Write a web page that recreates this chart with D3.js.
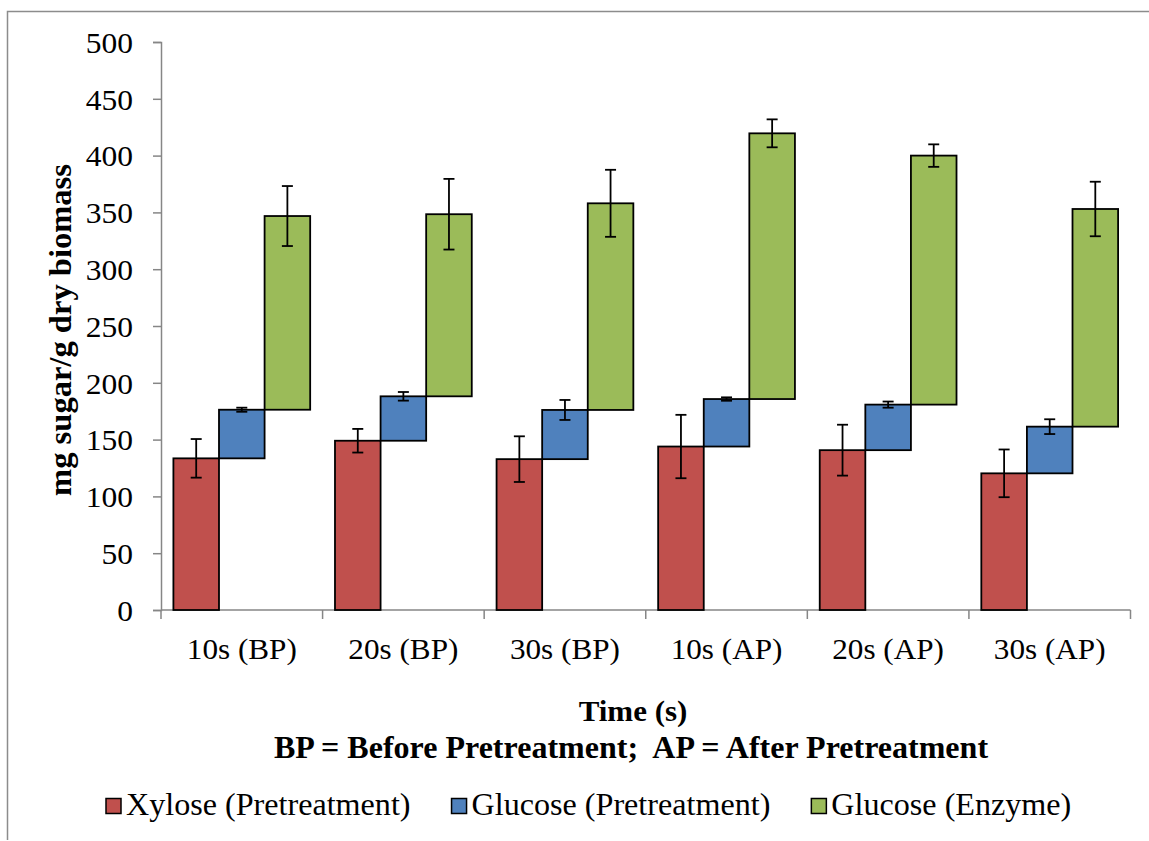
<!DOCTYPE html>
<html>
<head>
<meta charset="utf-8">
<script src="https://cdn.jsdelivr.net/npm/d3@7/dist/d3.min.js"></script>
<style>
  html, body { margin: 0; padding: 0; background: #fff; }
  svg { display: block; }
  text { font-family: "Liberation Serif", "Times New Roman", serif; fill: #000; }
</style>
</head>
<body>
<svg id="chart" width="1149" height="841"></svg>
<script>
// Sampling times (BP = before pretreatment, AP = after pretreatment)
const categories = ["10s (BP)", "20s (BP)", "30s (BP)", "10s (AP)", "20s (AP)", "30s (AP)"];

// Sugar yields, mg sugar / g dry biomass (each series is stacked on the previous one)
const seriesNames = ["Xylose (Pretreatment)", "Glucose (Pretreatment)", "Glucose (Enzyme)"];
const xylosePre  = [133.5, 149.0, 132.8, 143.9, 140.7, 120.3];
const glucosePre = [42.8, 39.1, 43.3, 41.8, 40.1, 41.1];
const glucoseEnz = [170.5, 160.3, 181.9, 233.9, 219.2, 191.6];

// Standard deviations
const xyloseErr     = [17.0, 10.4, 20.1, 27.9, 22.4, 21.0];
const glucosePreErr = [1.8, 3.8, 8.8, 1.5, 2.7, 6.5];
const glucoseEnzErr = [26.4, 31.1, 29.5, 12.3, 9.9, 24.0];

const yTicks = [0, 50, 100, 150, 200, 250, 300, 350, 400, 450, 500];
const colors = ["#C0504D", "#4F81BD", "#9BBB59"];

const svg = d3.select("#chart");
const STRETCH = 1.05; // glyphs are drawn slightly wide

// Widen a text element horizontally by the stretch factor and remember its final width
function widen(sel) {
  sel.each(function () {
    const len = this.getComputedTextLength();
    this.__width = len * STRETCH;
    d3.select(this).attr("textLength", len * STRETCH).attr("lengthAdjust", "spacingAndGlyphs");
  });
}

// Frame around the figure
svg.append("path")
  .attr("d", "M7.5,840 V11.5 H1149")
  .attr("fill", "none").attr("stroke", "#8c8c8c").attr("stroke-width", 1.5);

const plot = { left: 161, right: 1130.5, top: 42, bottom: 610 };

const x = d3.scaleBand().domain(categories).range([plot.left, plot.right]).padding(0);
const xs = d3.scaleBand().domain(seriesNames).range([0, x.bandwidth()]).paddingInner(0).paddingOuter(0.272);
const y = d3.scaleLinear().domain([0, 500]).range([plot.bottom, plot.top]);

// Stack the three components per category
const rows = categories.map((c, i) => ({
  cat: c,
  [seriesNames[0]]: xylosePre[i],
  [seriesNames[1]]: glucosePre[i],
  [seriesNames[2]]: glucoseEnz[i]
}));
const errs = [xyloseErr, glucosePreErr, glucoseEnzErr];
const stacked = d3.stack().keys(seriesNames)(rows);

// Y axis
const yAxis = svg.append("g")
  .attr("transform", `translate(${plot.left},0)`)
  .call(d3.axisLeft(y).tickValues(yTicks).tickSize(8).tickPadding(20).tickFormat(d3.format("d")));
yAxis.select(".domain").attr("stroke", "#868686").attr("stroke-width", 1.5);
yAxis.selectAll(".tick line").attr("stroke", "#868686").attr("stroke-width", 1.5);
yAxis.selectAll(".tick text")
  .style("font-family", '"Liberation Serif", serif')
  .attr("font-size", 30).attr("fill", "#000").attr("dy", "0.34em")
  .call(widen);

// X axis with boundary ticks between categories
const xAxisG = svg.append("g").attr("transform", `translate(0,${plot.bottom})`);
xAxisG.append("line")
  .attr("x1", plot.left).attr("x2", plot.right)
  .attr("stroke", "#868686").attr("stroke-width", 1.5);
const bounds = categories.map(c => x(c)).concat([plot.right]);
xAxisG.selectAll("line.bound").data(bounds).join("line")
  .attr("class", "bound")
  .attr("x1", d => d).attr("x2", d => d).attr("y1", 0).attr("y2", 9)
  .attr("stroke", "#868686").attr("stroke-width", 1.5);
xAxisG.selectAll("text.cat").data(categories).join("text")
  .attr("class", "cat")
  .attr("x", d => x(d) + x.bandwidth() / 2).attr("y", 49)
  .attr("text-anchor", "middle").attr("font-size", 29.7)
  .text(d => d)
  .call(widen);

// Bars and error bars, series by series
stacked.forEach((layer, si) => {
  const key = layer.key;
  const g = svg.append("g");
  g.selectAll("rect").data(layer).join("rect")
    .attr("x", d => x(d.data.cat) + xs(key))
    .attr("y", d => y(d[1]))
    .attr("width", xs.bandwidth())
    .attr("height", d => y(d[0]) - y(d[1]))
    .attr("fill", colors[si]).attr("stroke", "#000").attr("stroke-width", 1.8);

  const eb = g.selectAll("g.err").data(layer).join("g").attr("class", "err")
    .attr("transform", d => `translate(${x(d.data.cat) + xs(key) + xs.bandwidth() / 2},0)`);
  const e = (d, i) => errs[si][i];
  eb.append("line")
    .attr("y1", (d, i) => y(d[1] + e(d, i))).attr("y2", (d, i) => y(d[1] - e(d, i)))
    .attr("stroke", "#000").attr("stroke-width", 1.8);
  eb.append("line")
    .attr("x1", -5.5).attr("x2", 5.5)
    .attr("y1", (d, i) => y(d[1] + e(d, i))).attr("y2", (d, i) => y(d[1] + e(d, i)))
    .attr("stroke", "#000").attr("stroke-width", 1.8);
  eb.append("line")
    .attr("x1", -5.5).attr("x2", 5.5)
    .attr("y1", (d, i) => y(d[1] - e(d, i))).attr("y2", (d, i) => y(d[1] - e(d, i)))
    .attr("stroke", "#000").attr("stroke-width", 1.8);
});

// Axis titles
svg.append("text")
  .attr("transform", "translate(71,330) rotate(-90)")
  .attr("text-anchor", "middle").attr("font-size", 31).attr("font-weight", "bold")
  .text("mg sugar/g dry biomass")
  .call(widen);

svg.append("text")
  .attr("x", 633).attr("y", 721)
  .attr("text-anchor", "middle").attr("font-size", 29.5).attr("font-weight", "bold")
  .text("Time (s)")
  .call(widen);

svg.append("text")
  .attr("x", 631).attr("y", 758)
  .attr("text-anchor", "middle").attr("font-size", 30.5).attr("font-weight", "bold")
  .attr("xml:space", "preserve")
  .text("BP = Before Pretreatment;  AP = After Pretreatment")
  .call(widen);

// Legend: swatch, label, then a fixed gap before the next entry
let lx = 106;
seriesNames.forEach((name, i) => {
  svg.append("rect")
    .attr("x", lx).attr("y", 798.5).attr("width", 15).attr("height", 15)
    .attr("fill", colors[i]).attr("stroke", "#000").attr("stroke-width", 1.5);
  const t = svg.append("text")
    .attr("x", lx + 20).attr("y", 815)
    .attr("font-size", 30.6)
    .text(name)
    .call(widen);
  lx += 20 + t.node().__width + 41;
});
</script>
</body>
</html>
